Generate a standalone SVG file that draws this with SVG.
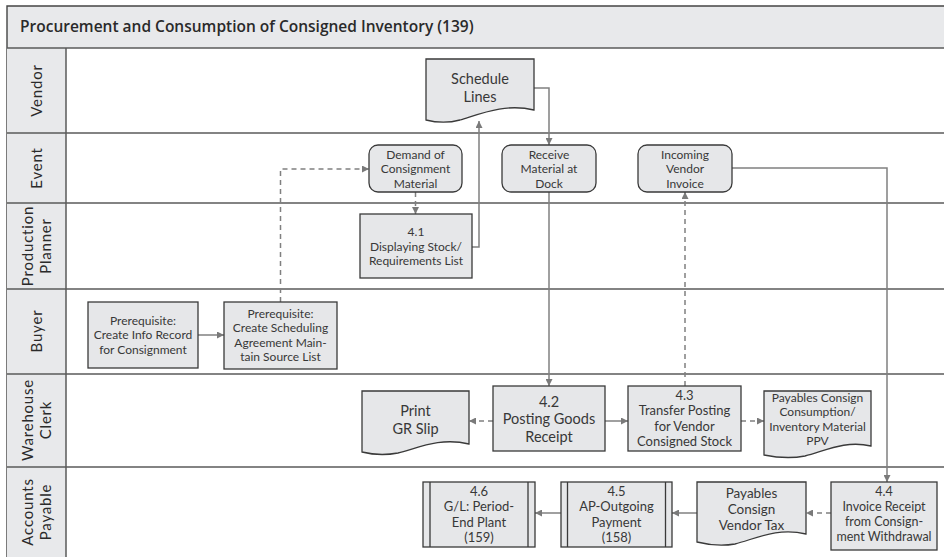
<svg xmlns="http://www.w3.org/2000/svg" width="944" height="557" viewBox="0 0 944 557">
  <defs>
    <marker id="arrow" viewBox="0 0 10 10" refX="10" refY="5" markerWidth="8" markerHeight="7" markerUnits="userSpaceOnUse" orient="auto">
      <path d="M0,0 L10,5 L0,10 Z" fill="#7a7a7a"/>
    </marker>
    <style>
      .bg { fill: #ffffff; }
      .hdr { fill: #e8e9eb; }
      .frame { fill: none; stroke: #444; stroke-width: 1.4; }
      .sep { stroke: #5a5a5a; stroke-width: 1.5; }
      .title { font-family: "Open Sans", "Lato", sans-serif; font-size: 15.5px; font-weight: 600; fill: #2a2a2a; }
      .lane { font-family: "Lato", "Open Sans", sans-serif; font-size: 15px; letter-spacing: 0.8px; fill: #2a2a2a; text-anchor: middle; }
      .node { fill: #e6e7e9; stroke: #3a3a3a; stroke-width: 1.3; }
      .t { font-family: "Lato", "Open Sans", sans-serif; fill: #383838; text-anchor: middle; }
      .s12 { font-size: 12px; }
      .s125 { font-size: 12.5px; }
      .s13 { font-size: 13px; }
      .s135 { font-size: 13.5px; }
      .s145 { font-size: 14.5px; }
      .conn { fill: none; stroke: #808080; stroke-width: 1.5; marker-end: url(#arrow); }
      .dash { stroke-dasharray: 5 4; }
    </style>
  </defs>

  <!-- page -->
  <rect class="bg" x="0" y="0" width="944" height="557"/>

  <!-- title bar -->
  <rect class="hdr" x="7" y="6" width="937" height="42"/>
  <path class="frame" d="M944,6 H7 V557"/>
  <text class="title" x="20" y="32">Procurement and Consumption of Consigned Inventory (139)</text>

  <!-- lane header column -->
  <rect class="hdr" x="7" y="48" width="59" height="509"/>
  <line class="sep" x1="66" y1="48" x2="66" y2="557"/>
  <g class="lanes">
    <line class="sep" x1="7" y1="48" x2="944" y2="48"/>
    <line class="sep" x1="7" y1="133" x2="944" y2="133"/>
    <line class="sep" x1="7" y1="203" x2="944" y2="203"/>
    <line class="sep" x1="7" y1="289" x2="944" y2="289"/>
    <line class="sep" x1="7" y1="374" x2="944" y2="374"/>
    <line class="sep" x1="7" y1="467" x2="944" y2="467"/>
  </g>
  <g id="lane-labels">
    <text class="lane" transform="translate(42,90.5) rotate(-90)">Vendor</text>
    <text class="lane" transform="translate(42,168) rotate(-90)">Event</text>
    <text class="lane" transform="translate(32.5,246) rotate(-90)">Production</text>
    <text class="lane" transform="translate(51,246) rotate(-90)">Planner</text>
    <text class="lane" transform="translate(42,331) rotate(-90)">Buyer</text>
    <text class="lane" transform="translate(32.5,420) rotate(-90)">Warehouse</text>
    <text class="lane" transform="translate(51,420) rotate(-90)">Clerk</text>
    <text class="lane" transform="translate(32.5,512) rotate(-90)">Accounts</text>
    <text class="lane" transform="translate(51,512) rotate(-90)">Payable</text>
  </g>

  <!-- connectors -->
  <g id="connectors">
    <path class="conn" d="M198,335 H224"/>
    <path class="conn dash" d="M280.5,302 V169 H369"/>
    <path class="conn dash" d="M415.5,192 V214"/>
    <path class="conn" d="M472,247 H479 V121"/>
    <path class="conn" d="M534,88 H549 V145"/>
    <path class="conn" d="M549,192 V386"/>
    <path class="conn dash" d="M493,421 H469"/>
    <path class="conn" d="M605,421 H628"/>
    <path class="conn dash" d="M685,386 V192"/>
    <path class="conn dash" d="M741,421 H764"/>
    <path class="conn" d="M732,168 H887 V482"/>
    <path class="conn dash" d="M831,513 H806"/>
    <path class="conn" d="M697,513 H672"/>
    <path class="conn" d="M561,513 H535"/>
  </g>

  <!-- Vendor lane -->
  <g id="schedule-lines">
    <path class="node" d="M426,59 H534 V110 C505,103 480,114 460,120 C445,124 434,122 426,120 Z"/>
    <text class="t s145"><tspan x="480" y="84.1">Schedule</tspan><tspan x="480" y="101.6">Lines</tspan></text>
  </g>

  <!-- Event lane -->
  <g id="demand-of-consignment-material">
    <rect class="node" x="369" y="145" width="93" height="47" rx="9"/>
    <text class="t s12"><tspan x="415.5" y="158.7">Demand of</tspan><tspan x="415.5" y="173.2">Consignment</tspan><tspan x="415.5" y="187.7">Material</tspan></text>
  </g>
  <g id="receive-material-at-dock">
    <rect class="node" x="502" y="145" width="94" height="47" rx="9"/>
    <text class="t s12"><tspan x="549" y="158.7">Receive</tspan><tspan x="549" y="173.2">Material at</tspan><tspan x="549" y="187.7">Dock</tspan></text>
  </g>
  <g id="incoming-vendor-invoice">
    <rect class="node" x="638" y="145" width="94" height="47" rx="9"/>
    <text class="t s12"><tspan x="685" y="158.7">Incoming</tspan><tspan x="685" y="173.2">Vendor</tspan><tspan x="685" y="187.7">Invoice</tspan></text>
  </g>

  <!-- Production Planner lane -->
  <g id="step-4-1">
    <rect class="node" x="360" y="214" width="112" height="64"/>
    <text class="t s12"><tspan x="416" y="236.2">4.1</tspan><tspan x="416" y="250.7">Displaying Stock/</tspan><tspan x="416" y="265.2">Requirements List</tspan></text>
  </g>

  <!-- Buyer lane -->
  <g id="prereq-info-record">
    <rect class="node" x="88" y="302" width="110" height="66"/>
    <text class="t s12"><tspan x="143" y="324.7">Prerequisite:</tspan><tspan x="143" y="339.2">Create Info Record</tspan><tspan x="143" y="353.7">for Consignment</tspan></text>
  </g>
  <g id="prereq-scheduling-agreement">
    <rect class="node" x="224" y="302" width="113" height="67"/>
    <text class="t s12"><tspan x="280.5" y="317.7">Prerequisite:</tspan><tspan x="280.5" y="332.2">Create Scheduling</tspan><tspan x="280.5" y="346.7">Agreement Main-</tspan><tspan x="280.5" y="361.2">tain Source List</tspan></text>
  </g>

  <!-- Warehouse Clerk lane -->
  <g id="print-gr-slip">
    <path class="node" d="M362,391 H469 V444 C440,437 418,448 398,453 C382,456 370,454 362,452 Z"/>
    <text class="t s145"><tspan x="415.5" y="416.1">Print</tspan><tspan x="415.5" y="433.6">GR Slip</tspan></text>
  </g>
  <g id="step-4-2">
    <rect class="node" x="493" y="386" width="112" height="65"/>
    <text class="t s145"><tspan x="549" y="406.6">4.2</tspan><tspan x="549" y="424.1">Posting Goods</tspan><tspan x="549" y="441.6">Receipt</tspan></text>
  </g>
  <g id="step-4-3">
    <rect class="node" x="628" y="386" width="113" height="65"/>
    <text class="t s13"><tspan x="684.5" y="399.5">4.3</tspan><tspan x="684.5" y="415.1">Transfer Posting</tspan><tspan x="684.5" y="430.7">for Vendor</tspan><tspan x="684.5" y="446.3">Consigned Stock</tspan></text>
  </g>
  <g id="payables-consign-consumption">
    <path class="node" d="M764,391 H871 V446 C845,440 825,451 805,456 C789,459 774,457 764,455 Z"/>
    <text class="t s12"><tspan x="817.5" y="401.7">Payables Consign</tspan><tspan x="817.5" y="416.2">Consumption/</tspan><tspan x="817.5" y="430.7">Inventory Material</tspan><tspan x="817.5" y="445.2">PPV</tspan></text>
  </g>

  <!-- Accounts Payable lane -->
  <g id="step-4-6">
    <rect class="node" x="423" y="482" width="112" height="65"/>
    <path class="node" d="M430,482 V547 M528,482 V547" fill="none"/>
    <text class="t s13"><tspan x="479" y="495.5">4.6</tspan><tspan x="479" y="511.1">G/L: Period-</tspan><tspan x="479" y="526.7">End Plant</tspan><tspan x="479" y="542.3">(159)</tspan></text>
  </g>
  <g id="step-4-5">
    <rect class="node" x="561" y="482" width="111" height="65"/>
    <path class="node" d="M567.5,482 V547 M665.5,482 V547" fill="none"/>
    <text class="t s13"><tspan x="616.5" y="495.5">4.5</tspan><tspan x="616.5" y="511.1">AP-Outgoing</tspan><tspan x="616.5" y="526.7">Payment</tspan><tspan x="616.5" y="542.3">(158)</tspan></text>
  </g>
  <g id="payables-consign-vendor-tax">
    <path class="node" d="M697,482 H806 V534 C777,527 755,539 735,544 C718,547 705,544 697,542 Z"/>
    <text class="t s135"><tspan x="751.5" y="497.7">Payables</tspan><tspan x="751.5" y="513.9">Consign</tspan><tspan x="751.5" y="530.1">Vendor Tax</tspan></text>
  </g>
  <g id="step-4-4">
    <rect class="node" x="831" y="482" width="106" height="68"/>
    <text class="t s125"><tspan x="884" y="496.4">4.4</tspan><tspan x="884" y="511.4">Invoice Receipt</tspan><tspan x="884" y="526.4">from Consign-</tspan><tspan x="884" y="541.4">ment Withdrawal</tspan></text>
  </g>
</svg>
